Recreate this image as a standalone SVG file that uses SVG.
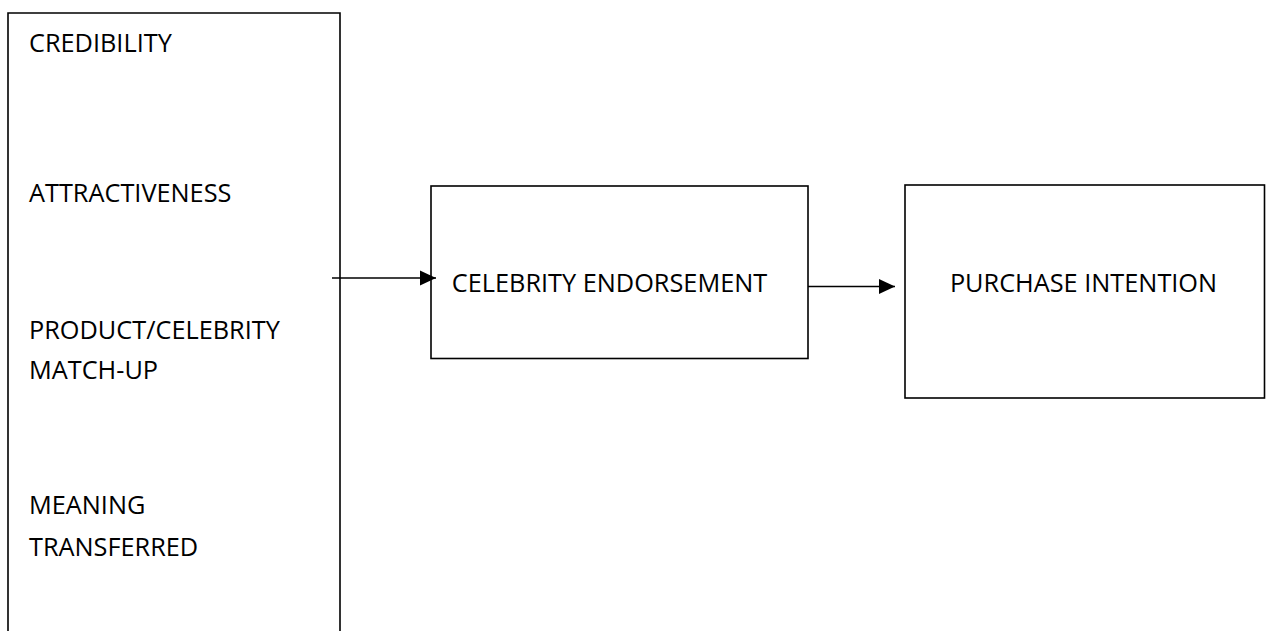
<svg xmlns="http://www.w3.org/2000/svg" width="1266" height="631" viewBox="0 0 1266 631">
<style>
.box{fill:#fff;stroke:#000;stroke-width:1.6}
.t{font-family:"Open Sans","Liberation Sans",sans-serif;font-size:25.3px;fill:#000}
.m{text-anchor:middle}
.c{stroke:#000;stroke-width:1.6;fill:none}
</style>
<defs>
<marker id="ah" markerUnits="userSpaceOnUse" markerWidth="16" markerHeight="16" viewBox="0 0 15 14" refX="15" refY="7" orient="auto">
<path d="M0,0 L15,7 L0,14 Z" fill="#000"/>
</marker>
</defs>
<rect width="1266" height="631" fill="#fff"/>
<g id="factors">
<path class="box" d="M8,640 L8,13 L340,13 L340,640"/>
<text class="t" x="29" y="52">CREDIBILITY</text>
<text class="t" x="29" y="202">ATTRACTIVENESS</text>
<text class="t" x="29" y="339">PRODUCT/CELEBRITY</text>
<text class="t" x="29" y="379">MATCH-UP</text>
<text class="t" x="29" y="514">MEANING</text>
<text class="t" x="29" y="556">TRANSFERRED</text>
</g>
<g id="celebrity-endorsement">
<rect class="box" x="431" y="186" width="377" height="172.5"/>
<text class="t m" x="609.5" y="292">CELEBRITY ENDORSEMENT</text>
</g>
<g id="purchase-intention">
<rect class="box" x="905" y="185" width="359.5" height="213"/>
<text class="t m" x="1083.5" y="292">PURCHASE INTENTION</text>
</g>
<g id="connectors">
<line class="c" x1="332" y1="278" x2="436" y2="278" marker-end="url(#ah)"/>
<line class="c" x1="808" y1="286.5" x2="895" y2="286.5" marker-end="url(#ah)"/>
</g>
</svg>
